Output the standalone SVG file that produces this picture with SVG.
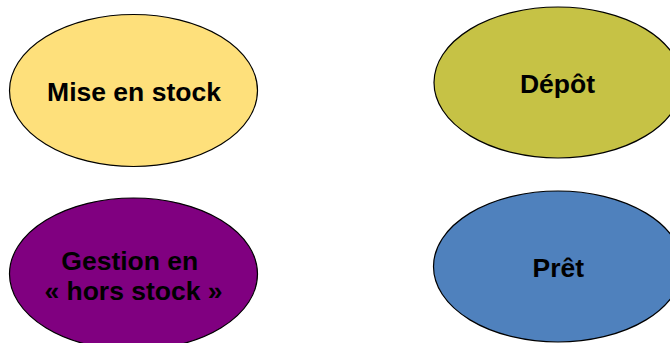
<svg xmlns="http://www.w3.org/2000/svg" width="670" height="343" viewBox="0 0 670 343">
<style>
.n{stroke:#000;stroke-width:1.2}
.t{font-family:"Liberation Sans",Arial,sans-serif;font-weight:bold;font-size:26.5px;fill:#000;text-anchor:middle}
</style>
<rect width="670" height="343" fill="#fff"/>
<g id="mise-en-stock">
<ellipse class="n" cx="133.5" cy="90.5" rx="124" ry="76" fill="#FEE07B"/>
<text class="t" x="134" y="100.7">Mise en stock</text>
</g>
<g id="depot">
<ellipse class="n" cx="558" cy="82.5" rx="124" ry="75.5" fill="#C6C245"/>
<text class="t" x="557.5" y="92.5">Dépôt</text>
</g>
<g id="gestion-hors-stock">
<ellipse class="n" cx="133.5" cy="274" rx="124" ry="76" fill="#800080"/>
<text class="t" x="133.5" y="269.5" xml:space="preserve">Gestion en </text>
<text class="t" x="133.5" y="300">« hors stock »</text>
</g>
<g id="pret">
<ellipse class="n" cx="558" cy="266.5" rx="124.5" ry="75.5" fill="#4F81BD"/>
<text class="t" x="558.3" y="277">Prêt</text>
</g>
<g id="connectors"/>
</svg>
